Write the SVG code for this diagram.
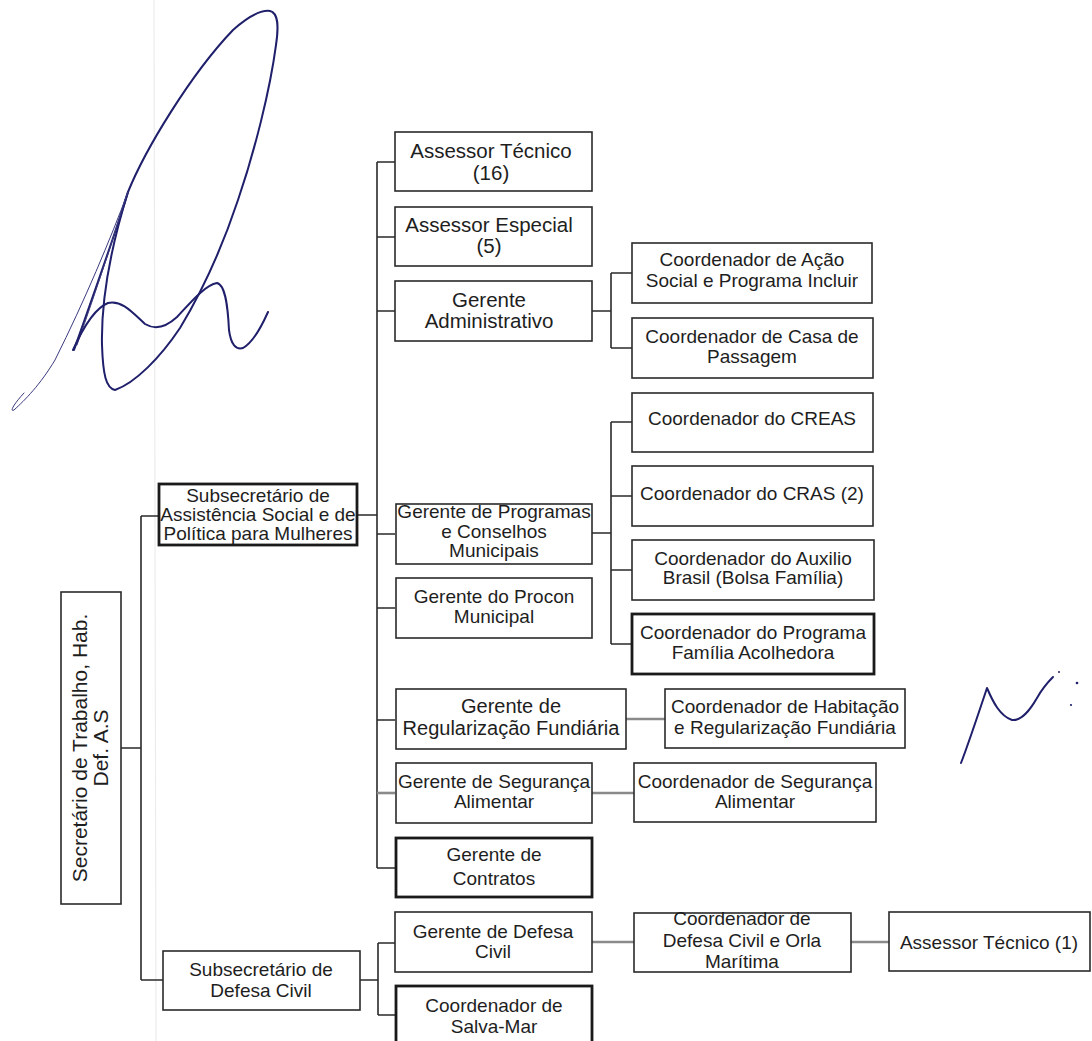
<svg xmlns="http://www.w3.org/2000/svg" width="1092" height="1041" viewBox="0 0 1092 1041">
<style>
.b{fill:#fff;stroke:#2a2a2a;stroke-width:1.6}
.bt{fill:#fff;stroke:#1a1a1a;stroke-width:2.8}
.t{font-family:"Liberation Sans",Arial,sans-serif;font-size:19px;fill:#1e1e1e;text-anchor:middle}
.l{font-size:20.5px}
.c{fill:none;stroke:#2a2a2a;stroke-width:1.6}
.g{fill:none;stroke:#8a8a8a;stroke-width:2.6}
.sig{fill:none;stroke:#1f1f6b;stroke-width:2;stroke-linecap:round;stroke-linejoin:round}
.sigt{fill:none;stroke:#3a3a80;stroke-width:1;stroke-linecap:round}
</style>
<rect width="1092" height="1041" fill="#fff"/>
<line x1="154" y1="0" x2="156" y2="1041" stroke="#ececec" stroke-width="1.2"/>

<g id="connectors">
<path class="c" d="M121 748H141M141 516V980M141 516H159M141 980H163"/>
<path class="c" d="M357 515H377M377 162V868M377 162H395M377 237H395M377 311H395M377 534H395M377 608H395M377 720H395M377 868H395"/>
<path class="g" d="M377 793H395"/>
<path class="c" d="M592 311H611M611 273V348M611 273H632M611 348H632"/>
<path class="c" d="M592 533H611M611 422V644M611 422H632M611 496H632M611 570H632M611 644H632"/>
<path class="g" d="M626 719H665M592 793H634M592 942H634M851 942H889"/>
<path class="c" d="M360 980H378M378 943V1015M378 943H395M378 1015H395"/>
</g>

<g id="secretario"><rect class="b" x="61" y="592" width="60" height="312"/>
<text class="t" transform="translate(87 748) rotate(-90)" style="font-size:21px">Secretário de Trabalho,  Hab.</text>
<text class="t" transform="translate(108 748) rotate(-90)" style="font-size:21px">Def. A.S</text></g>

<g id="subsec-assist"><rect class="bt" x="159" y="484" width="198" height="61"/>
<text class="t" x="258" y="502">Subsecretário de</text><text class="t" x="258" y="521">Assistência Social e de</text><text class="t" x="258" y="540">Política para Mulheres</text></g>

<g id="subsec-defesa"><rect class="b" x="163" y="951" width="197" height="59"/>
<text class="t" x="261" y="976">Subsecretário de</text><text class="t" x="261" y="997">Defesa Civil</text></g>

<g id="assessor-tecnico"><rect class="b" x="395" y="132" width="197" height="59"/>
<text class="t l" x="491" y="158">Assessor  Técnico</text><text class="t l" x="491" y="180">(16)</text></g>

<g id="assessor-especial"><rect class="b" x="395" y="207" width="197" height="59"/>
<text class="t l" x="489" y="232">Assessor  Especial</text><text class="t l" x="489" y="253">(5)</text></g>

<g id="gerente-adm"><rect class="b" x="395" y="281" width="197" height="60"/>
<text class="t l" x="489" y="307">Gerente</text><text class="t l" x="489" y="328">Administrativo</text></g>

<g id="coord-acao"><rect class="b" x="632" y="243" width="240" height="60"/>
<text class="t" x="752" y="266">Coordenador de Ação</text><text class="t" x="752" y="287">Social e Programa Incluir</text></g>

<g id="coord-casa"><rect class="b" x="632" y="318" width="241" height="60"/>
<text class="t" x="752" y="343">Coordenador de Casa de</text><text class="t" x="752" y="363">Passagem</text></g>

<g id="coord-creas"><rect class="b" x="632" y="393" width="241" height="59"/>
<text class="t" x="752" y="425">Coordenador do CREAS</text></g>

<g id="coord-cras"><rect class="b" x="632" y="466" width="241" height="60"/>
<text class="t" x="752" y="500">Coordenador do CRAS (2)</text></g>

<g id="coord-auxilio"><rect class="b" x="632" y="540" width="242" height="60"/>
<text class="t" x="753" y="565">Coordenador do Auxilio</text><text class="t" x="753" y="584">Brasil (Bolsa Família)</text></g>

<g id="coord-familia"><rect class="bt" x="632" y="614" width="242" height="60"/>
<text class="t" x="753" y="639">Coordenador do Programa</text><text class="t" x="753" y="659">Família Acolhedora</text></g>

<g id="gerente-programas"><rect class="b" x="396" y="504" width="196" height="60"/>
<text class="t" x="494" y="518">Gerente de Programas</text><text class="t" x="494" y="538">e Conselhos</text><text class="t" x="494" y="557">Municipais</text></g>

<g id="gerente-procon"><rect class="b" x="396" y="578" width="196" height="60"/>
<text class="t" x="494" y="603">Gerente do Procon</text><text class="t" x="494" y="623">Municipal</text></g>

<g id="gerente-regularizacao"><rect class="b" x="396" y="689" width="230" height="60"/>
<text class="t" x="511" y="713" style="font-size:20px">Gerente de</text><text class="t" x="511" y="735" style="font-size:20px">Regularização Fundiária</text></g>

<g id="coord-habitacao"><rect class="b" x="665" y="689" width="240" height="59"/>
<text class="t" x="785" y="713">Coordenador de Habitação</text><text class="t" x="785" y="734">e Regularização Fundiária</text></g>

<g id="gerente-seguranca"><rect class="b" x="396" y="763" width="196" height="60"/>
<text class="t" x="494" y="788">Gerente de Segurança</text><text class="t" x="494" y="808">Alimentar</text></g>

<g id="coord-seguranca"><rect class="b" x="634" y="763" width="242" height="59"/>
<text class="t" x="755" y="788">Coordenador de Segurança</text><text class="t" x="755" y="808">Alimentar</text></g>

<g id="gerente-contratos"><rect class="bt" x="396" y="838" width="196" height="59"/>
<text class="t" x="494" y="861">Gerente  de</text><text class="t" x="494" y="885">Contratos</text></g>

<g id="gerente-defesa"><rect class="b" x="395" y="912" width="197" height="60"/>
<text class="t" x="493" y="938">Gerente  de Defesa</text><text class="t" x="493" y="958">Civil</text></g>

<g id="coord-defesa-orla"><rect class="b" x="634" y="913" width="217" height="59"/>
<text class="t" x="742" y="925">Coordenador de</text><text class="t" x="742" y="947">Defesa Civil e Orla</text><text class="t" x="742" y="968">Marítima</text></g>

<g id="assessor-tecnico-1"><rect class="b" x="889" y="912" width="201" height="59"/>
<text class="t" x="989" y="949">Assessor Técnico (1)</text></g>

<g id="coord-salva-mar"><rect class="bt" x="396" y="986" width="196" height="60"/>
<text class="t" x="494" y="1012">Coordenador de</text><text class="t" x="494" y="1033">Salva-Mar</text></g>

<path class="sig" d="M128 192C145 150 190 75 233 30C250 15 262 10 270 11C278 13 279 25 276 45C270 90 255 150 238 200C222 248 200 295 180 328C160 358 135 383 115 390C106 388 103 375 102 345C101 300 110 250 128 192"/>
<path class="sig" d="M128 192C115 235 95 290 74 350"/>
<path class="sigt" d="M126 196C113 240 98 285 77 345"/>
<path class="sigt" d="M128 192C110 240 85 300 55 360C40 385 25 400 14 410C10 412 12 406 24 393"/>
<path class="sig" d="M73 350C82 330 95 308 108 303C122 300 132 312 145 324C155 330 165 328 177 317C190 303 205 285 217 283C226 285 228 310 229 330C231 345 236 350 243 348C252 343 260 330 268 312"/>
<path class="sig" d="M961 763C968 745 978 715 987 688C993 702 1000 716 1012 720C1022 721 1030 710 1037 698C1042 689 1048 682 1053 677"/>
<circle cx="1059" cy="672" r="1" fill="#1f1f6b"/>
<circle cx="1077" cy="683" r="1.3" fill="#1f1f6b"/>
<circle cx="1071" cy="705" r="1.1" fill="#1f1f6b"/>
</svg>
